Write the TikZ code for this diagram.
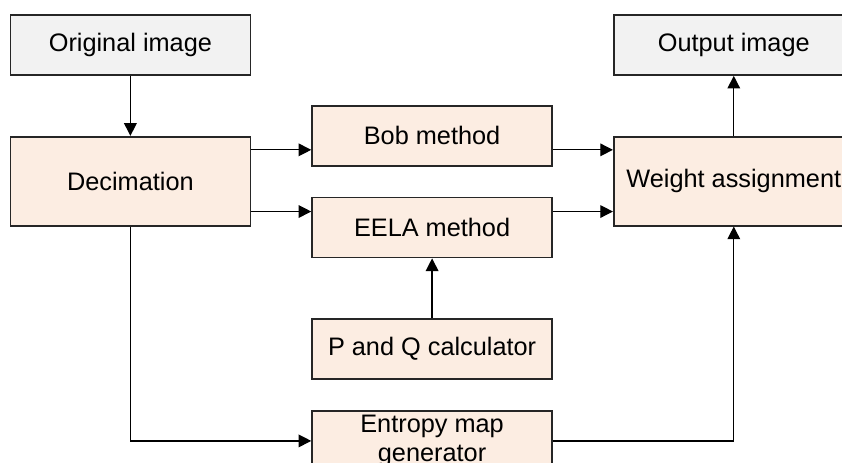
\documentclass[tikz,border=0pt]{standalone}
\usepackage{fontspec}
\setmainfont{Liberation Sans}
\usepackage{xcolor}
\usetikzlibrary{arrows.meta, positioning, calc}

\definecolor{boxfill}{HTML}{FCEDE2}
\definecolor{iofill}{HTML}{F2F2F2}
\definecolor{edge}{HTML}{262626}

\begin{document}
\begin{tikzpicture}[
    font=\fontsize{18}{21}\selectfont,
    box/.style={rectangle, draw=edge, line width=1.2pt, fill=boxfill, minimum width=6cm, minimum height=1.5cm, inner sep=0pt, align=center},
    io/.style={box, fill=iofill},
    tall/.style={box, minimum height=2.225cm},
    arrow/.style={line width=0.9pt, -{Triangle[length=9pt, width=9pt]}}
]
\useasboundingbox (0,0) rectangle (21.05,-11.55);
\clip (0,0) rectangle (21.05,-11.55);

% Input side
\node[io] (orig) at (3.26,-1.125) {Original image};
\node[tall, below=1.5cm of orig] (dec) {Decimation};

% Middle column
\node[box, right=1.5cm of dec.north east] (bob) {Bob method};
\node[box, below=0.75cm of bob] (eela) {EELA method};
\node[box, below=1.5cm of eela] (pq) {P and Q calculator};
\node[box, below=0.75cm of pq] (ent) {Entropy map\\generator};

% Output side
\node[tall, anchor=west] (wgt) at ($(bob.east |- dec)+(1.5,0)$) {Weight assignment};
\node[io, above=1.5cm of wgt] (out) {Output image};

% Arrows
\coordinate (bobin) at ($(dec.north east)+(0,-0.35)$);
\coordinate (eelain) at ($(dec.south east)+(0,0.375)$);
\draw[arrow] (orig) -- (dec);
\draw[arrow] (bobin) -- (bobin -| bob.west);
\draw[arrow] (eelain) -- (eelain -| eela.west);
\draw[arrow] (bob.east |- bobin) -- (wgt.west |- bobin);
\draw[arrow] (eela.east |- eelain) -- (wgt.west |- eelain);
\draw[arrow] (pq) -- (eela);
\draw[arrow] (dec.south) |- (ent.west);
\draw[arrow] (ent.east) -| (wgt.south);
\draw[arrow] (wgt) -- (out);

\end{tikzpicture}
\end{document}
